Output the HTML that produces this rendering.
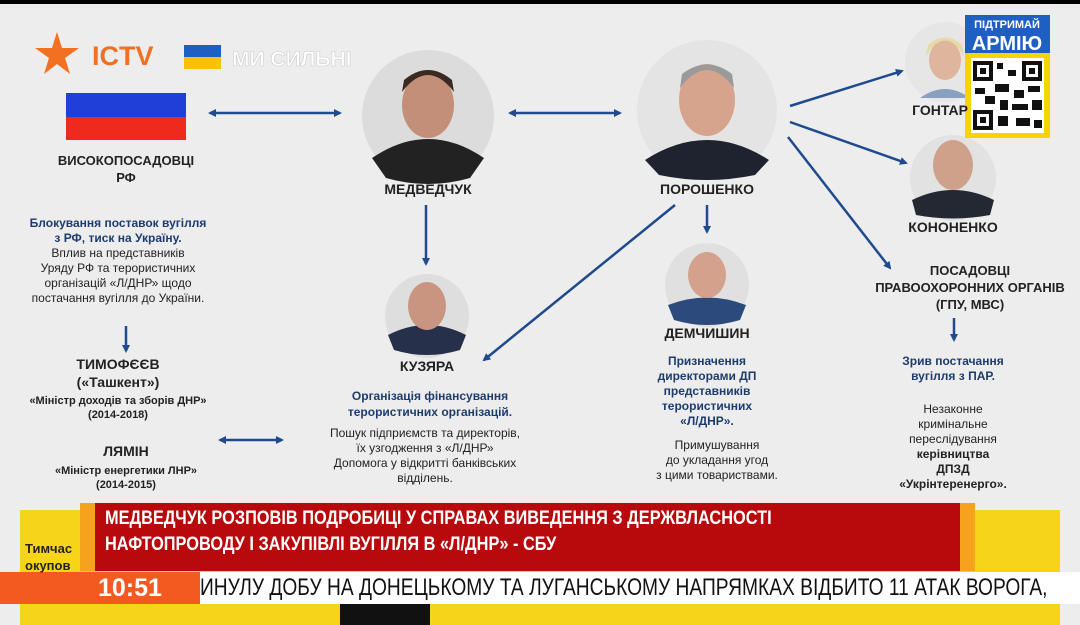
<!DOCTYPE html>
<html><head><meta charset="utf-8"><style>
body{margin:0;width:1080px;height:625px;overflow:hidden;background:#ededed;font-family:"Liberation Sans","DejaVu Sans",sans-serif;}
svg{position:absolute;left:0;top:0}
.t{position:absolute;text-align:center;color:#222;font-size:12px;line-height:15px;transform:translateX(-50%);white-space:nowrap}
.b{font-weight:bold}
.n{font-weight:bold;font-size:14px;color:#222}
.bl{color:#1d3c6e;font-weight:bold}
</style></head><body>
<svg width="1080" height="625">
<defs><marker id="a" markerWidth="8" markerHeight="8" refX="6" refY="4" orient="auto" markerUnits="userSpaceOnUse"><path d="M0,0 L8,4 L0,8z" fill="#1f4a8e"/></marker>
<marker id="s" markerWidth="8" markerHeight="8" refX="2" refY="4" orient="auto" markerUnits="userSpaceOnUse"><path d="M8,0 L0,4 L8,8z" fill="#1f4a8e"/></marker></defs>
<rect x="0" y="0" width="1080" height="4" fill="#000"/>
<polygon points="57,32 62,48 79,48 65,58 70,74 57,64 44,74 49,58 35,48 52,48" fill="#f36f21"/>
<text x="92" y="65" font-family="Liberation Sans" font-weight="bold" font-size="27" fill="#f36f21">ICTV</text>
<rect x="184" y="45" width="37" height="12" fill="#1f5fc4"/><rect x="184" y="57" width="37" height="12" fill="#f5c400"/>
<text x="232" y="66" font-family="Liberation Sans" font-weight="bold" font-size="21" fill="#fff" stroke="#ccc" stroke-width="0.6">МИ СИЛЬНІ</text>
<rect x="66" y="93" width="120" height="24" fill="#1f3fd8"/><rect x="66" y="117" width="120" height="23" fill="#ee2a1c"/>
<g stroke="#1f4a8e" stroke-width="2.5" fill="none">
<line x1="210" y1="113" x2="340" y2="113" marker-start="url(#s)" marker-end="url(#a)"/>
<line x1="510" y1="113" x2="620" y2="113" marker-start="url(#s)" marker-end="url(#a)"/>
<line x1="426" y1="205" x2="426" y2="264" marker-end="url(#a)"/>
<line x1="707" y1="205" x2="707" y2="232" marker-end="url(#a)"/>
<line x1="675" y1="205" x2="484" y2="360" marker-end="url(#a)"/>
<line x1="790" y1="106" x2="902" y2="71" marker-end="url(#a)"/>
<line x1="790" y1="122" x2="906" y2="163" marker-end="url(#a)"/>
<line x1="788" y1="137" x2="890" y2="268" marker-end="url(#a)"/>
<line x1="126" y1="326" x2="126" y2="351" marker-end="url(#a)"/>
<line x1="954" y1="318" x2="954" y2="340" marker-end="url(#a)"/>
<line x1="220" y1="440" x2="282" y2="440" marker-start="url(#s)" marker-end="url(#a)"/>
</g>
<g>
<circle cx="428" cy="116" r="66" fill="#dcdcdc"/>
<path d="M372,158 Q428,120 484,158 L470,178 Q428,190 386,178z" fill="#222"/><ellipse cx="428" cy="105" rx="26" ry="33" fill="#c48f78"/><path d="M402,92 Q428,58 454,92 L452,80 Q428,60 404,80z" fill="#3a2a22"/>
<circle cx="707" cy="110" r="70" fill="#e4e4e4"/>
<path d="M645,160 Q707,120 769,160 L755,175 Q707,185 659,175z" fill="#1f2330"/><ellipse cx="707" cy="100" rx="28" ry="36" fill="#d6a48d"/><path d="M680,88 Q707,52 734,88 L732,74 Q707,55 682,74z" fill="#9a9a9a"/>
<circle cx="945" cy="62" r="40" fill="#e6e6e6"/><ellipse cx="945" cy="60" rx="16" ry="20" fill="#e0b59e"/><path d="M926,56 Q945,25 964,56 L962,45 Q945,30 928,45z" fill="#e8d9a8"/><path d="M920,98 Q945,80 970,98" fill="#8aa0c0"/>
<circle cx="953" cy="178" r="43" fill="#e2e2e2"/><path d="M912,200 Q953,180 994,200 L990,215 Q953,222 916,215z" fill="#232833"/><ellipse cx="953" cy="165" rx="20" ry="25" fill="#cfa08a"/>
<circle cx="427" cy="316" r="42" fill="#dedede"/><path d="M388,335 Q427,315 466,335 L460,350 Q427,360 394,350z" fill="#26304a"/><ellipse cx="427" cy="306" rx="19" ry="24" fill="#c99580"/>
<circle cx="707" cy="285" r="42" fill="#e0e0e0"/><path d="M668,305 Q707,290 746,305 L740,320 Q707,330 674,320z" fill="#2c4a7c"/><ellipse cx="707" cy="275" rx="19" ry="23" fill="#d3a18c"/>
</g>
<rect x="965" y="15" width="85" height="38" fill="#1f5fc4"/>
<text x="1007" y="28" text-anchor="middle" font-family="Liberation Sans" font-weight="bold" font-size="11" fill="#fff">ПІДТРИМАЙ</text>
<text x="1007" y="50" text-anchor="middle" font-family="Liberation Sans" font-weight="bold" font-size="20" fill="#fff">АРМІЮ</text>
<rect x="965" y="53" width="85" height="85" fill="#f5d400"/><rect x="971" y="58" width="73" height="75" fill="#fff"/>
<g fill="#111"><rect x="973" y="61" width="20" height="20"/><rect x="1022" y="61" width="20" height="20"/><rect x="973" y="110" width="20" height="20"/>
<rect x="997" y="63" width="6" height="6"/><rect x="1008" y="70" width="8" height="6"/><rect x="975" y="88" width="10" height="6"/><rect x="995" y="84" width="14" height="8"/><rect x="1014" y="90" width="10" height="8"/><rect x="1028" y="86" width="12" height="6"/><rect x="1000" y="100" width="8" height="10"/><rect x="1012" y="104" width="16" height="6"/><rect x="1032" y="100" width="10" height="10"/><rect x="998" y="116" width="10" height="10"/><rect x="1016" y="118" width="14" height="8"/><rect x="1034" y="120" width="8" height="8"/><rect x="985" y="96" width="10" height="8"/></g>
<g fill="#fff"><rect x="977" y="65" width="12" height="12"/><rect x="1026" y="65" width="12" height="12"/><rect x="977" y="114" width="12" height="12"/></g>
<g fill="#111"><rect x="980" y="68" width="6" height="6"/><rect x="1029" y="68" width="6" height="6"/><rect x="980" y="117" width="6" height="6"/></g>
<rect x="20" y="510" width="1040" height="115" fill="#f6d41a"/>
<rect x="80" y="503" width="895" height="68" fill="#f7a21c"/>
<rect x="95" y="503" width="865" height="68" fill="#b8090c"/>
<rect x="0" y="572" width="1080" height="32" fill="#fff"/>
<rect x="0" y="572" width="200" height="32" fill="#f25a1f"/>
<rect x="340" y="604" width="90" height="21" fill="#111"/>
</svg>
<div class="t b" style="left:126px;top:152px;font-size:13px;line-height:17px">ВИСОКОПОСАДОВЦІ<br>РФ</div>
<div class="t n" style="left:428px;top:182px">МЕДВЕДЧУК</div>
<div class="t n" style="left:707px;top:182px">ПОРОШЕНКО</div>
<div class="t n" style="left:940px;top:103px">ГОНТАР</div>
<div class="t n" style="left:953px;top:220px">КОНОНЕНКО</div>
<div class="t n" style="left:427px;top:359px">КУЗЯРА</div>
<div class="t n" style="left:707px;top:326px">ДЕМЧИШИН</div>
<div class="t n" style="left:970px;top:262px;line-height:17px;font-size:13px">ПОСАДОВЦІ<br>ПРАВООХОРОННИХ ОРГАНІВ<br>(ГПУ, МВС)</div>
<div class="t" style="left:118px;top:216px"><span class="bl">Блокування поставок вугілля<br>з РФ, тиск на Україну.</span><br>Вплив на представників<br>Уряду РФ та терористичних<br>організацій «Л/ДНР» щодо<br>постачання вугілля до України.</div>
<div class="t b" style="left:118px;top:355px;font-size:14px;line-height:18px">ТИМОФЄЄВ<br>(«Ташкент»)</div>
<div class="t b" style="left:118px;top:394px;font-size:11px;line-height:14px">«Міністр доходів та зборів ДНР»<br>(2014-2018)</div>
<div class="t b" style="left:126px;top:444px;font-size:14px">ЛЯМІН</div>
<div class="t b" style="left:126px;top:464px;font-size:11px;line-height:14px">«Міністр енергетики ЛНР»<br>(2014-2015)</div>
<div class="t" style="left:430px;top:388px;line-height:16px"><span class="bl">Організація фінансування<br>терористичних організацій.</span></div>
<div class="t" style="left:425px;top:426px">Пошук підприємств та директорів,<br>їх узгодження з «Л/ДНР»<br>Допомога у відкритті банківських<br>відділень.</div>
<div class="t" style="left:707px;top:354px"><span class="bl">Призначення<br>директорами ДП<br>представників<br>терористичних<br>«Л/ДНР».</span></div>
<div class="t" style="left:717px;top:438px">Примушування<br>до укладання угод<br>з цими товариствами.</div>
<div class="t" style="left:953px;top:354px"><span class="bl">Зрив постачання<br>вугілля з ПАР.</span></div>
<div class="t" style="left:953px;top:402px">Незаконне<br>кримінальне<br>переслідування<br><b>керівництва<br>ДПЗД<br>«Укрінтеренерго».</b></div>
<div style="position:absolute;left:105px;top:506px;color:#fff;font-weight:bold;font-size:19px;line-height:26px;white-space:nowrap;transform:scaleX(0.86);transform-origin:0 0">МЕДВЕДЧУК РОЗПОВІВ ПОДРОБИЦІ У СПРАВАХ ВИВЕДЕННЯ З ДЕРЖВЛАСНОСТІ<br>НАФТОПРОВОДУ І ЗАКУПІВЛІ ВУГІЛЛЯ В «Л/ДНР» - СБУ</div>
<div style="position:absolute;left:25px;top:540px;font-weight:bold;font-size:13px;line-height:17px;color:#222">Тимчас<br>окупов</div>
<div style="position:absolute;left:98px;top:573px;color:#fff;font-weight:bold;font-size:25px;line-height:30px">10:51</div>
<div style="position:absolute;left:200px;top:574px;white-space:nowrap;color:#111;font-size:24px;line-height:28px;transform:scaleX(0.8);transform-origin:0 0">ИНУЛУ ДОБУ НА ДОНЕЦЬКОМУ ТА ЛУГАНСЬКОМУ НАПРЯМКАХ ВІДБИТО 11 АТАК ВОРОГА,</div>
</body></html>
